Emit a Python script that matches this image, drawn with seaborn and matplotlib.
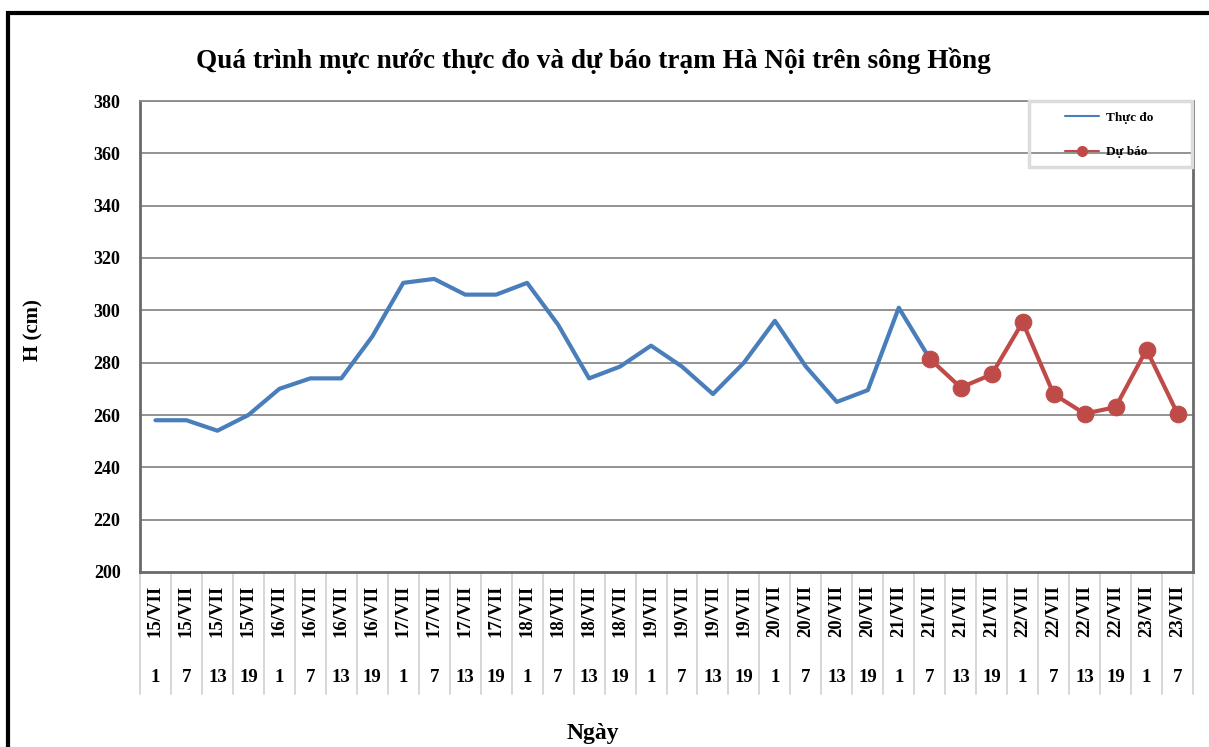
import numpy as np
import pandas as pd
import matplotlib
matplotlib.use("Agg")
import matplotlib.pyplot as plt
from matplotlib.patches import Rectangle
from matplotlib.lines import Line2D
import seaborn as sns

# ---- data ----
day_labels = (["15/VII"] * 4 + ["16/VII"] * 4 + ["17/VII"] * 4 + ["18/VII"] * 4 +
              ["19/VII"] * 4 + ["20/VII"] * 4 + ["21/VII"] * 4 + ["22/VII"] * 4 +
              ["23/VII"] * 2)
hour_labels = ["1", "7", "13", "19"] * 8 + ["1", "7"]

observed = [258, 258, 254, 260, 270, 274, 274, 290, 310.5, 312, 306, 306,
            310.5, 294.5, 274, 278.5, 286.5, 278.5, 268, 280, 296, 278.5,
            265, 269.5, 301, 281.5]
forecast = [281.5, 270.5, 275.5, 295.5, 268, 260.5, 263, 285, 260.5]
forecast_start = 25

y_ticks = list(range(200, 381, 20))

title = "Quá trình mực nước thực đo và dự báo trạm Hà Nội trên sông Hồng"
xlabel = "Ngày"
ylabel = "H (cm)"
obs_name = "Thực đo"
fc_name = "Dự báo"

# ---- style ----
sns.set_style("white")
plt.rcParams["font.family"] = ["Liberation Serif", "DejaVu Serif"]
plt.rcParams["font.weight"] = "bold"
plt.rcParams["text.color"] = "black"
plt.rcParams["ytick.color"] = "black"
plt.rcParams["xtick.color"] = "black"

W, H = 1209, 747
fig = plt.figure(figsize=(W / 100, H / 100), dpi=100)
L, R, T, B = 140, 1193, 101, 572
ax = fig.add_axes([L / W, 1 - B / H, (R - L) / W, (B - T) / H])

blue = "#4a7ebb"
red = "#be4b48"

df_obs = pd.DataFrame({"x": np.arange(len(observed)), "H": observed})
df_fc = pd.DataFrame({"x": np.arange(forecast_start, forecast_start + len(forecast)),
                      "H": forecast})

sns.lineplot(data=df_obs, x="x", y="H", ax=ax, color=blue, linewidth=3,
             zorder=3, legend=False)
sns.lineplot(data=df_fc, x="x", y="H", ax=ax, color=red, linewidth=3,
             marker="o", markersize=12, markeredgecolor=red, zorder=4,
             legend=False)

n = len(day_labels)
ax.set_xlim(-0.5, n - 0.5)
ax.set_ylim(200, 380)
ax.set_yticks(y_ticks)
ax.set_yticklabels([str(v) for v in y_ticks], fontsize=13, fontweight="bold",
                   color="black")
ax.tick_params(axis="y", length=0, pad=14, labelcolor="black")
ax.set_xticks([])
ax.set_xlabel("")
ax.set_ylabel("")

for v in y_ticks[1:]:
    ax.axhline(v, color="#8a8a8a", linewidth=1.3, zorder=1)

for side in ["left", "bottom", "right"]:
    ax.spines[side].set_color("#6a6a6a")
    ax.spines[side].set_linewidth(2)
ax.spines["top"].set_color("#8a8a8a")
ax.spines["top"].set_linewidth(1.3)

# multi-level x labels
trans = ax.get_xaxis_transform()
ph = B - T
y_day = -(611 - B) / ph
y_hour = -(677 - B) / ph
y_sep = -(694 - B) / ph
for i in range(n):
    ax.text(i, y_day, day_labels[i], transform=trans, rotation=90,
            ha="center", va="center", fontsize=13.5, fontweight="bold",
            color="black", clip_on=False)
    ax.text(i, y_hour, hour_labels[i], transform=trans, ha="center",
            va="center", fontsize=13.5, fontweight="bold", color="black",
            clip_on=False)
for i in range(n + 1):
    ax.plot([i - 0.5, i - 0.5], [0, y_sep], transform=trans, color="#d0d0d0",
            linewidth=1.2, clip_on=False, zorder=0)

# titles
fig.text(593 / W, 1 - 61 / H, title, ha="center", va="center", fontsize=19.6,
         fontweight="bold", color="black")
fig.text(593 / W, 1 - 733 / H, xlabel, ha="center", va="center", fontsize=17,
         fontweight="bold", color="black")
fig.text(33 / W, 1 - 330 / H, ylabel, ha="center", va="center", fontsize=15,
         fontweight="bold", rotation=90, color="black")

# legend box
fig.patches.append(Rectangle((1029 / W, 1 - 167 / H), (1192 - 1029) / W,
                             (167 - 101) / H, transform=fig.transFigure,
                             facecolor="none", edgecolor="#dcdcdc",
                             linewidth=2.5, zorder=5))
handles = [Line2D([], [], color=blue, linewidth=1.5),
           Line2D([], [], color=red, linewidth=1.5, marker="o", markersize=7)]
leg = fig.legend(handles, [obs_name, fc_name], loc="center",
                 bbox_to_anchor=(1109 / W, 1 - 135 / H), frameon=False,
                 prop={"size": 9.5, "weight": "bold"}, labelspacing=1.7,
                 handlelength=2.6, handletextpad=0.5)
for t in leg.get_texts():
    t.set_color("black")

# outer frame
fig.patches.append(Rectangle((8 / W, -0.2), 1.5, (1 - 13 / H) + 0.2,
                             transform=fig.transFigure, facecolor="none",
                             edgecolor="black", linewidth=3, zorder=0))

fig.savefig("out.png", dpi=100)
